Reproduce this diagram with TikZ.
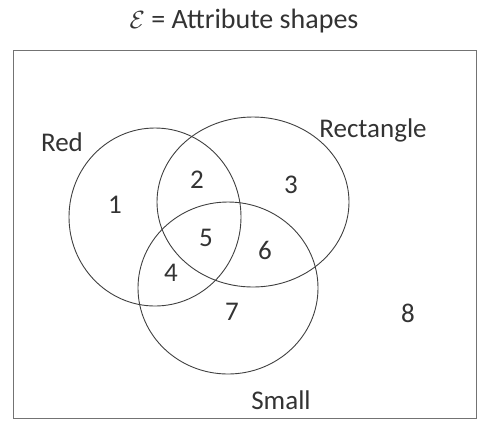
\documentclass[tikz,border=0pt]{standalone}
\usepackage{fontspec}
\setmainfont{Carlito}
\begin{document}
\begin{tikzpicture}[x=1pt,y=-1pt,
  lbl/.style={font=\fontsize{27}{30}\selectfont, text=black!80},
  setline/.style={draw=black!75, line width=0.9pt}]
                \useasboundingbox (0,0) rectangle (481,432);
                % Title and universal set
                \node[lbl, font=\fontsize{28}{30}\selectfont] (title) at (244, 21) {$\mathcal{E}$ = Attribute shapes};
                \draw[draw=black!55, line width=0.8pt] (13,50) rectangle (476,418);
                
                % Draw sets
                \draw[setline] (155,217) ellipse [x radius=86, y radius=89];
                \draw[setline] (253,202) ellipse [x radius=96, y radius=85];
                \draw[setline] (228,288) ellipse [x radius=90, y radius=86];
                
                % Set names
                \node[lbl] (red) at (62, 142) {Red};
                \node[lbl] (rect) at (373, 130) {Rectangle};
                \node[lbl] (small) at (281, 400) {Small};
                
                % Regions
                \node[lbl] (r1) at (115, 205) {1}; \node[lbl] (r2) at (197, 180) {2};
                \node[lbl] (r3) at (291, 185) {3}; \node[lbl] (r4) at (171, 273) {4};
                \node[lbl] (r5) at (206, 238) {5}; \node[lbl] (r6) at (265, 250) {6};
                \node[lbl] (r7) at (232, 312) {7}; \node[lbl] (r8) at (408, 313) {8};
            \end{tikzpicture}
\end{document}
